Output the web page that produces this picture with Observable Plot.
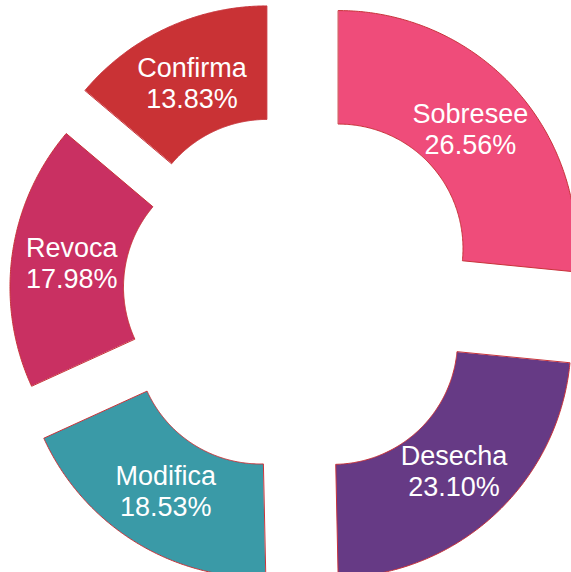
<!DOCTYPE html>
<html>
<head>
<meta charset="utf-8">
<script src="https://cdn.jsdelivr.net/npm/d3@7"></script>
<script src="https://cdn.jsdelivr.net/npm/@observablehq/plot@0.6"></script>
<style>
  html, body { margin: 0; padding: 0; background: #fff; overflow: hidden; }
  #chart svg { display: block; overflow: hidden; }
</style>
</head>
<body>
<div id="chart"></div>
<script>
// Data
const categories = ["Sobresee", "Desecha", "Modifica", "Revoca", "Confirma"];
const shares = [26.56, 23.10, 18.53, 17.98, 13.83];
const colors = ["#EF4C7A", "#663A85", "#3A9AA7", "#C93062", "#C93235"];
// explode distance per slice (style, like a "pull" option)
const pull = [66, 64, 55, 42, 54];

const W = 571, H = 572;
const innerR = 124.5, outerR = 238;
const labelR = 178;

const arcs = d3.pie().sort(null).value(d => d).startAngle(0).endAngle(2 * Math.PI)(shares);

const pts = [];
const labelRows = [];
arcs.forEach((a, i) => {
  const mid = (a.startAngle + a.endAngle) / 2;
  const ox = pull[i] * Math.sin(mid), oy = pull[i] * Math.cos(mid);
  const n = 160;
  const ring = [];
  for (let k = 0; k <= n; k++) {
    const t = a.startAngle + (a.endAngle - a.startAngle) * k / n;
    ring.push([ox + outerR * Math.sin(t), oy + outerR * Math.cos(t)]);
  }
  for (let k = n; k >= 0; k--) {
    const t = a.startAngle + (a.endAngle - a.startAngle) * k / n;
    ring.push([ox + innerR * Math.sin(t), oy + innerR * Math.cos(t)]);
  }
  ring.forEach(([x, y]) => pts.push({cat: categories[i], x, y}));
  labelRows.push({
    cat: categories[i],
    x: ox + labelR * Math.sin(mid),
    y: oy + labelR * Math.cos(mid),
    text: categories[i] + "\n" + shares[i].toFixed(2) + "%"
  });
});

const plot = Plot.plot({
  width: W,
  height: H,
  margin: 0,
  style: {overflow: "hidden", background: "#fff"},
  x: {domain: [-289.1, W - 289.1], range: [0, W], axis: null},
  y: {domain: [292.4 - H, 292.4], range: [H, 0], axis: null},
  color: {domain: categories, range: colors},
  marks: [
    Plot.line(pts, {x: "x", y: "y", z: "cat", fill: "cat", stroke: "#C8333A", strokeWidth: 1, curve: "linear-closed"}),
    Plot.text(labelRows, {x: "x", y: "y", text: "text", fill: "white", fontSize: 27, lineHeight: 1.15, fontFamily: "'Liberation Sans', Arial, sans-serif"})
  ]
});
document.getElementById("chart").appendChild(plot);
</script>
</body>
</html>
